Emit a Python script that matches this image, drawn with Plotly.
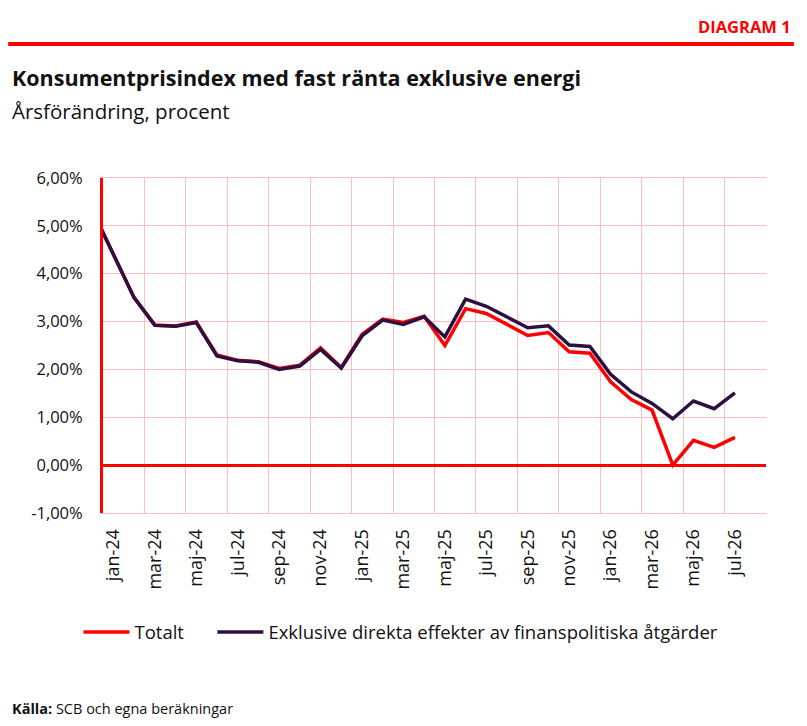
import plotly.graph_objects as go

# månader, dec-23 ligger utanför axeln och klipps vid vänsterkanten
months = ["dec-23", "jan-24", "feb-24", "mar-24", "apr-24", "maj-24", "jun-24", "jul-24",
          "aug-24", "sep-24", "okt-24", "nov-24", "dec-24", "jan-25", "feb-25", "mar-25",
          "apr-25", "maj-25", "jun-25", "jul-25", "aug-25", "sep-25", "okt-25", "nov-25",
          "dec-25", "jan-26", "feb-26", "mar-26", "apr-26", "maj-26", "jun-26", "jul-26"]

totalt = [5.31, 4.41, 3.50, 2.93, 2.91, 2.99, 2.30, 2.19, 2.16, 2.02, 2.09, 2.45, 2.04,
          2.73, 3.05, 2.98, 3.11, 2.50, 3.27, 3.17, 2.94, 2.71, 2.77, 2.37, 2.34, 1.74,
          1.37, 1.15, 0.00, 0.52, 0.37, 0.58]

exkl = [5.31, 4.41, 3.50, 2.92, 2.90, 2.98, 2.28, 2.18, 2.15, 2.00, 2.07, 2.42, 2.03,
        2.70, 3.03, 2.94, 3.10, 2.68, 3.47, 3.32, 3.10, 2.87, 2.91, 2.51, 2.48, 1.90,
        1.53, 1.29, 0.97, 1.34, 1.18, 1.51]

tick_labels = ["jan-24", "mar-24", "maj-24", "jul-24", "sep-24", "nov-24", "jan-25", "mar-25",
               "maj-25", "jul-25", "sep-25", "nov-25", "jan-26", "mar-26", "maj-26", "jul-26"]

y_ticks = [-1, 0, 1, 2, 3, 4, 5, 6]
y_labels = ["-1,00%", "0,00%", "1,00%", "2,00%", "3,00%", "4,00%", "5,00%", "6,00%"]

RED = "#ff0000"
PURPLE = "#2d1040"
GRID = "#ffbcc1"
FONT = "Open Sans"

x = list(range(-1, len(months) - 1))
tick_pos = [months.index(m) - 1 for m in tick_labels]

fig = go.Figure()
fig.add_trace(go.Scatter(x=x, y=totalt, mode="lines", name="Totalt",
                         line=dict(color=RED, width=3.5), legend="legend"))
fig.add_trace(go.Scatter(x=x, y=exkl, mode="lines",
                         name="Exklusive direkta effekter av finanspolitiska åtgärder",
                         line=dict(color=PURPLE, width=3.5), legend="legend2"))

leg = dict(orientation="h", xanchor="left", y=-0.357, yanchor="middle",
           font=dict(size=18.5), itemwidth=46, bgcolor="rgba(0,0,0,0)")

# sidan får ca 7-8 px marginal i webbläsaren, därför lite mindre figur
fig.update_layout(
    width=799, height=718,
    margin=dict(l=95, r=41, t=170, b=213),
    paper_bgcolor="white", plot_bgcolor="white",
    font=dict(family=FONT, size=16, color="#111111"),
    showlegend=True,
    legend=dict(leg, x=-0.037),
    legend2=dict(leg, x=0.165),
    shapes=[dict(type="line", xref="paper", yref="paper", x0=-0.143, x1=1.042,
                 y0=1.4, y1=1.4, line=dict(color=RED, width=4))],
    annotations=[
        dict(text="<b>DIAGRAM 1</b>", xref="paper", yref="paper", x=1.04, y=1.451,
             xanchor="right", yanchor="middle", showarrow=False,
             font=dict(family=FONT, size=16.5, color=RED)),
        dict(text="<b>Konsumentprisindex med fast ränta exklusive energi</b>",
             xref="paper", yref="paper", x=-0.141, y=1.3, xanchor="left",
             yanchor="middle", showarrow=False,
             font=dict(family=FONT, size=21.5, color="#111111")),
        dict(text="Årsförändring, procent", xref="paper", yref="paper", x=-0.141,
             y=1.2, xanchor="left", yanchor="middle", showarrow=False,
             font=dict(family=FONT, size=20.5, color="#111111")),
        dict(text="<b>Källa:</b> SCB och egna beräkningar", xref="paper", yref="paper",
             x=-0.141, y=-0.585, xanchor="left", yanchor="middle", showarrow=False,
             font=dict(family=FONT, size=14.5, color="#111111")),
    ],
)

fig.update_xaxes(
    range=[-0.5, 31.5], tickmode="array", tickvals=tick_pos, ticktext=tick_labels,
    tickangle=-90, showgrid=False, zeroline=False, ticks="", ticklabelstandoff=8,
    showline=True, linecolor=GRID, linewidth=1, mirror=True,
    tickfont=dict(size=18),
    minor=dict(tickmode="array", tickvals=[p + 1.5 for p in tick_pos],
               showgrid=True, gridcolor=GRID, gridwidth=1.2, ticks=""),
)
fig.update_yaxes(
    range=[-1, 6], tickmode="array", tickvals=y_ticks, ticktext=y_labels,
    showgrid=True, gridcolor=GRID, gridwidth=1,
    zeroline=True, zerolinecolor=RED, zerolinewidth=3,
    showline=True, linecolor=RED, linewidth=3, ticks="", ticklabelstandoff=14,
    tickfont=dict(size=16.5),
)

fig.write_html("out.html")
